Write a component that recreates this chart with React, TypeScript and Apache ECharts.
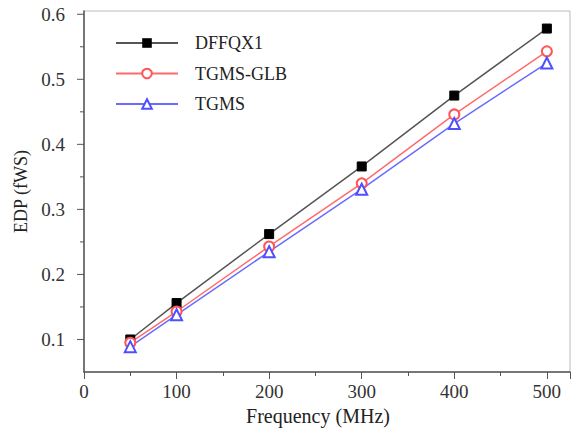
import React, { useEffect, useRef } from "react";
import * as echarts from "echarts";

const frequencies = [50, 100, 200, 300, 400, 500];
const dffqx1 = [0.1, 0.156, 0.262, 0.366, 0.475, 0.578];
const tgmsGlb = [0.095, 0.143, 0.243, 0.34, 0.446, 0.543];
const tgms = [0.089, 0.138, 0.235, 0.331, 0.432, 0.525];
const yMajorTicks = [0.1, 0.2, 0.3, 0.4, 0.5, 0.6];
const yMinorTicks = [0.15, 0.25, 0.35, 0.45, 0.55];

const FONT = "Liberation Serif";

export default function App() {
  const ref = useRef<HTMLDivElement>(null);
  useEffect(() => {
    if (!ref.current) return;
    const chart = echarts.init(ref.current, null, { renderer: "svg" });
    const pair = (arr: number[]) => frequencies.map((f, i) => [f, arr[i]]);
    const tickData = [
      ...yMajorTicks.map((v) => [0, v, 7]),
      ...yMinorTicks.map((v) => [0, v, 4]),
    ];
    chart.setOption({
      animation: false,
      backgroundColor: "#fff",
      grid: {
        left: 84,
        right: 3,
        top: 11,
        bottom: 59,
        show: true,
        borderColor: "#bbbbbb",
        borderWidth: 1,
      },
      legend: {
        orient: "vertical",
        left: 110,
        top: 29,
        itemWidth: 62,
        itemHeight: 12,
        itemGap: 12.5,
        textStyle: { fontFamily: FONT, fontSize: 18, color: "#222", padding: [0, 0, 0, 12] },
        data: ["DFFQX1", "TGMS-GLB", "TGMS"],
      },
      xAxis: {
        type: "value",
        min: 0,
        max: 525,
        interval: 100,
        name: "Frequency (MHz)",
        nameLocation: "middle",
        nameGap: 28,
        nameTextStyle: { fontFamily: FONT, fontSize: 20, color: "#222", padding: [0, 18, 0, 0] },
        axisLine: { show: true, lineStyle: { color: "#555", width: 1.5 } },
        axisTick: { show: true, inside: false, length: 7, lineStyle: { color: "#555" } },
        minorTick: { show: true, splitNumber: 2, length: 4, lineStyle: { color: "#555" } },
        splitLine: { show: false },
        axisLabel: {
          fontFamily: FONT,
          fontSize: 19,
          color: "#333",
          margin: 10,
          formatter: (v: number) => (Math.abs(v % 100) < 1e-6 ? String(v) : ""),
        },
      },
      yAxis: {
        type: "value",
        min: 0.05,
        max: 0.605,
        interval: 0.05,
        name: "EDP (fWS)",
        nameLocation: "middle",
        nameGap: 52,
        nameTextStyle: { fontFamily: FONT, fontSize: 18, color: "#222" },
        axisLine: { show: true, lineStyle: { color: "#555", width: 1.5 } },
        axisTick: { show: false },
        splitLine: { show: false },
        axisLabel: {
          fontFamily: FONT,
          fontSize: 19,
          color: "#333",
          margin: 19,
          formatter: (v: number) => {
            const r = Math.round(v * 100);
            if (r % 10 !== 0 || r > 60) return "";
            return (r / 100).toFixed(1);
          },
        },
      },
      series: [
        {
          name: "yTicks",
          type: "custom",
          silent: true,
          clip: false,
          data: tickData,
          renderItem: (params: any, api: any) => {
            const p = api.coord([api.value(0), api.value(1)]);
            const len = api.value(2);
            return {
              type: "line",
              shape: { x1: p[0] - len, y1: p[1], x2: p[0], y2: p[1] },
              style: { stroke: "#555", lineWidth: 1 },
            };
          },
        },
        {
          name: "DFFQX1",
          type: "line",
          data: pair(dffqx1),
          symbol: "rect",
          symbolSize: 9,
          lineStyle: { color: "#555", width: 1.5 },
          itemStyle: { color: "#000", borderColor: "#000" },
        },
        {
          name: "TGMS-GLB",
          type: "line",
          data: pair(tgmsGlb),
          symbol: "emptyCircle",
          symbolSize: 10,
          lineStyle: { color: "#ff6b6b", width: 1.5 },
          itemStyle: { color: "#ff5555", borderColor: "#ff5555", borderWidth: 1.5 },
        },
        {
          name: "TGMS",
          type: "line",
          data: pair(tgms),
          symbol: "emptyTriangle",
          symbolSize: 11,
          lineStyle: { color: "#6b6bff", width: 1.5 },
          itemStyle: { color: "#4f4fff", borderColor: "#4f4fff", borderWidth: 1.5 },
        },
      ],
    });
    return () => chart.dispose();
  }, []);
  return <div ref={ref} style={{ width: 573, height: 431, position: "fixed", left: 0, top: 0 }} />;
}
